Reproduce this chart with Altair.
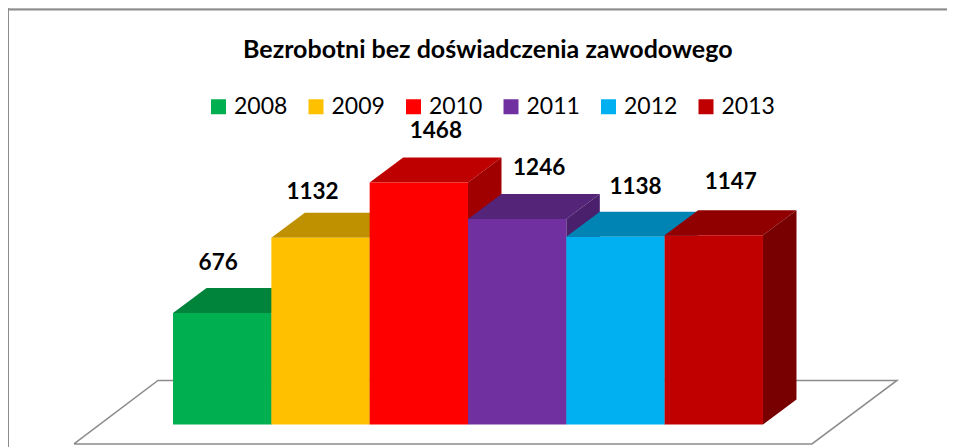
import altair as alt
import pandas as pd

TITLE = "Bezrobotni bez doświadczenia zawodowego"
YEARS = ["2008", "2009", "2010", "2011", "2012", "2013"]
VALUES = [676, 1132, 1468, 1246, 1138, 1147]
FRONT = ["#00B050", "#FFC000", "#FF0000", "#7030A0", "#00B0F0", "#C00000"]
TOP = ["#00843C", "#BF9000", "#BF0000", "#542478", "#0084B4", "#900000"]
SIDE = ["#006A30", "#997300", "#A00000", "#4A1F6C", "#006E96", "#780000"]
# label nudges relative to the top centre of each bar (layout, not data)
LABEL_DX = [-4, -8, 17, 22, 20, 17]
LABEL_DY = [-50, -46, -51, -51, -50, -53]

W, H = 939, 439
PX_PER_SLOT = 98.33
PX_PER_UNIT = 0.1649
X0, Y0 = 165.0, 416.5
DEPTH_X = 33.5 / PX_PER_SLOT
DEPTH_Y = 25.0 / PX_PER_UNIT

x_scale = alt.Scale(domain=[-X0 / PX_PER_SLOT, (W - X0) / PX_PER_SLOT], nice=False, zero=False)
y_scale = alt.Scale(domain=[-(H - Y0) / PX_PER_UNIT, Y0 / PX_PER_UNIT], nice=False, zero=False)
color_scale = alt.Scale(domain=YEARS, range=FRONT)

X = lambda f="x": alt.X(f"{f}:Q", scale=x_scale, axis=None)
Y = lambda f="y": alt.Y(f"{f}:Q", scale=y_scale, axis=None)

floor = pd.DataFrame({
    "x": [-1.007, -0.153, 7.363, 6.498, -1.007],
    "y": [-118, 267, 267, -118, -118],
    "o": [0, 1, 2, 3, 4],
})

frame_color = "#8C8C8C"
layers = [
    alt.Chart(pd.DataFrame({"a": [0]})).mark_rule(color=frame_color, strokeWidth=2).encode(
        x=alt.value(0), x2=alt.value(W), y=alt.value(1.5)),
    alt.Chart(pd.DataFrame({"a": [0]})).mark_rule(color=frame_color, strokeWidth=2).encode(
        x=alt.value(0), y=alt.value(0), y2=alt.value(H)),
    alt.Chart(floor).mark_line(color=frame_color, strokeWidth=1.5).encode(
        x=X(), y=Y(), order="o:Q"),
]

for i, (year, value) in enumerate(zip(YEARS, VALUES)):
    top = pd.DataFrame({
        "y": [value, value + DEPTH_Y],
        "x": [i, i + DEPTH_X],
        "x2": [i + 1, i + 1 + DEPTH_X],
    })
    side = pd.DataFrame({
        "x": [i + 1, i + 1 + DEPTH_X],
        "y": [0, DEPTH_Y],
        "y2": [value, value + DEPTH_Y],
    })
    front = pd.DataFrame({"year": [year], "x": [i], "x2": [i + 1], "y": [0], "y2": [value]})
    layers += [
        alt.Chart(top).mark_area(orient="horizontal", color=TOP[i]).encode(
            y=Y(), x=X(), x2="x2:Q"),
        alt.Chart(side).mark_area(orient="vertical", color=SIDE[i]).encode(
            x=X(), y=Y(), y2="y2:Q"),
        alt.Chart(front).mark_bar(cornerRadius=0).encode(
            x=X(), x2="x2:Q", y=Y(), y2="y2:Q",
            color=alt.Color("year:N", scale=color_scale, legend=alt.Legend(
                title=None, orient="none", legendX=199, legendY=87,
                direction="horizontal", columns=6, columnPadding=16.5,
                symbolType="square", symbolSize=225, symbolStrokeWidth=0,
                symbolOpacity=1, labelFont="Lato", labelFontSize=23, labelColor="#000000",
                labelOffset=4, padding=0,
            )),
        ),
    ]

for i, (year, value) in enumerate(zip(YEARS, VALUES)):
    lab = pd.DataFrame({"x": [i + 0.5], "y": [value], "t": [str(value)]})
    layers.append(
        alt.Chart(lab).mark_text(
            font="Lato", fontSize=22.5, fontWeight="bold", color="#000000",
            dx=LABEL_DX[i], dy=LABEL_DY[i], baseline="middle", align="center",
        ).encode(x=X(), y=Y(), text="t:N")
    )

chart = alt.layer(*layers).properties(
    width=W, height=H, padding=0,
    autosize=alt.AutoSizeParams(type="none"),
    title=alt.TitleParams(
        TITLE, font="Lato", fontSize=25, fontWeight="bold", color="#000000",
        anchor="start", offset=0, dx=236, dy=56,
    ),
).configure_view(stroke=None).configure(background="#FFFFFF")

chart.save("out.html", embed_options={"renderer": "svg", "actions": False})
